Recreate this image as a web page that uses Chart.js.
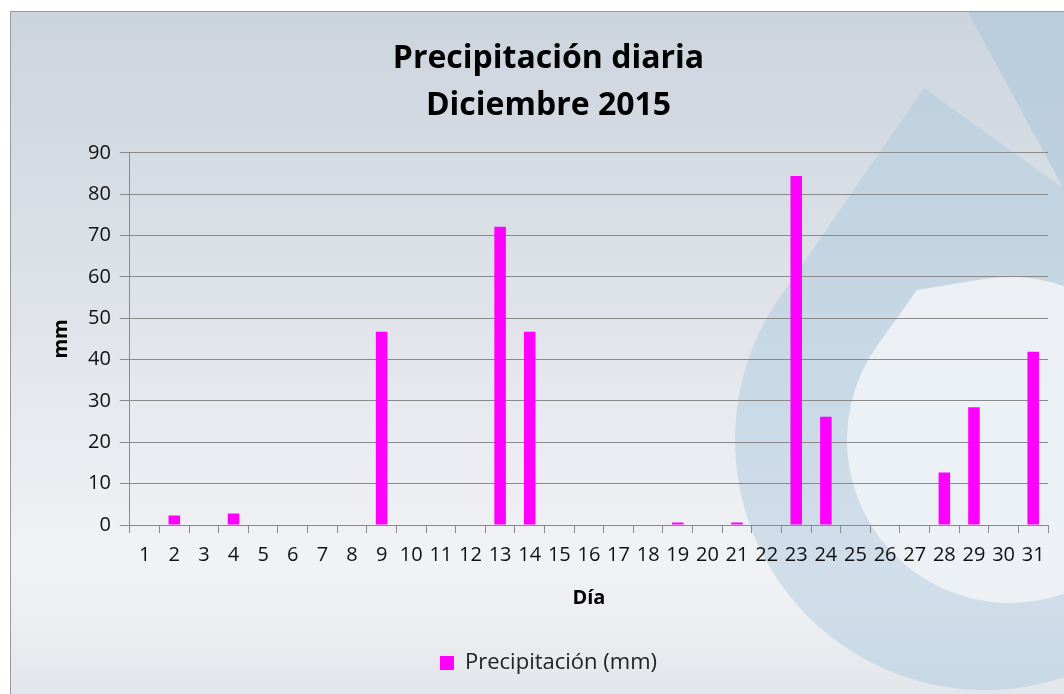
<!DOCTYPE html>
<html>
<head>
<meta charset="UTF-8">
<title>Precipitación diaria</title>
<script src="https://cdn.jsdelivr.net/npm/chart.js@4.4.1/dist/chart.umd.min.js"></script>
<style>
  html, body { margin: 0; padding: 0; background: #ffffff; overflow: hidden; }
  #frame {
    position: absolute; left: 10px; top: 11px;
    width: 1053px; height: 682px;
    border-left: 1px solid #9a9a9a; border-top: 1px solid #9a9a9a;
  }
</style>
</head>
<body>
<div id="frame"><canvas id="chart"></canvas></div>
<script>
// días del mes
var dias = [];
for (var d = 1; d <= 31; d++) dias.push(String(d));

// precipitación diaria (mm)
var precipitacion = [0, 2.3, 0, 2.8, 0, 0, 0, 0, 46.7, 0,
                     0, 0, 72.1, 46.7, 0, 0, 0, 0, 0.6, 0,
                     0.6, 0, 84.4, 26.2, 0, 0, 0, 12.7, 28.5, 0,
                     41.9];

var tituloLineas = ['Precipitación diaria', 'Diciembre 2015'];
var fuente = '"Open Sans", Lato, sans-serif';

// gota: vértice + círculo tangente
function gota(ctx, px, py, cx, cy, r) {
  var dx = px - cx, dy = py - cy;
  var dist = Math.sqrt(dx * dx + dy * dy);
  var phi = Math.atan2(dy, dx);
  var beta = Math.acos(r / dist);
  ctx.beginPath();
  ctx.moveTo(px, py);
  ctx.lineTo(cx + r * Math.cos(phi - beta), cy + r * Math.sin(phi - beta));
  ctx.arc(cx, cy, r, phi - beta, phi + beta, true);
  ctx.closePath();
  ctx.fill();
}

// fondo degradado + marca de agua
var fondo = {
  id: 'fondo',
  beforeDraw: function(chart) {
    var ctx = chart.ctx, w = chart.width, h = chart.height;
    ctx.save();
    var g = ctx.createLinearGradient(0, 0, 0, h);
    g.addColorStop(0, '#ccd4de');
    g.addColorStop(0.45, '#e0e4ea');
    g.addColorStop(0.8, '#f1f2f5');
    g.addColorStop(0.9, '#eceef1');
    g.addColorStop(1, '#e2e5ea');
    ctx.fillStyle = g;
    ctx.fillRect(0, 0, w, h);

    // banda diagonal arriba a la derecha
    ctx.fillStyle = 'rgba(170,198,218,0.55)';
    ctx.beginPath();
    ctx.moveTo(957, 0); ctx.lineTo(1053, 0); ctx.lineTo(1053, 178); ctx.closePath();
    ctx.fill();

    // gota grande
    ctx.fillStyle = 'rgba(172,200,222,0.48)';
    gota(ctx, 913, 76, 974, 428, 250);

    // gota interior clara
    ctx.fillStyle = 'rgba(240,243,246,0.9)';
    gota(ctx, 906, 278, 999, 428, 163);
    ctx.restore();
  }
};

new Chart(document.getElementById('chart'), {
  type: 'bar',
  data: {
    labels: dias,
    datasets: [{
      label: 'Precipitación (mm)',
      data: precipitacion,
      backgroundColor: '#ff00ff',
      borderWidth: 0,
      barPercentage: 0.39,
      categoryPercentage: 1.0
    }]
  },
  options: {
    responsive: true,
    maintainAspectRatio: false,
    animation: false,
    layout: { padding: { left: 38, right: 16, top: 0, bottom: 10 } },
    plugins: {
      title: {
        display: true,
        text: tituloLineas,
        color: '#000',
        font: { family: fuente, size: 32, weight: 'bold', lineHeight: 1.45 },
        padding: { top: 24, bottom: 24 }
      },
      legend: {
        position: 'bottom',
        labels: {
          color: '#222',
          font: { family: fuente, size: 22 },
          boxWidth: 14, boxHeight: 14,
          padding: 12
        }
      },
      tooltip: { enabled: false }
    },
    scales: {
      x: {
        grid: {
          offset: true,
          drawOnChartArea: false,
          color: '#8a8a8a',
          tickLength: 8
        },
        border: { color: '#8a8a8a' },
        ticks: {
          color: '#111',
          font: { family: fuente, size: 20 },
          maxRotation: 0, autoSkip: false, padding: 10
        },
        title: {
          display: true, text: 'Día', color: '#000',
          font: { family: fuente, size: 20, weight: 'bold' },
          padding: { top: 9, bottom: 30 }
        }
      },
      y: {
        min: 0, max: 90,
        ticks: {
          stepSize: 10, color: '#111',
          font: { family: fuente, size: 20 }, padding: 9
        },
        grid: { color: '#8a8a8a', tickLength: 10 },
        border: { color: '#8a8a8a' },
        title: {
          display: true, text: 'mm', color: '#000',
          font: { family: fuente, size: 20, weight: 'bold' },
          padding: { top: 0, bottom: 6 }
        }
      }
    }
  },
  plugins: [fondo]
});
</script>
</body>
</html>
